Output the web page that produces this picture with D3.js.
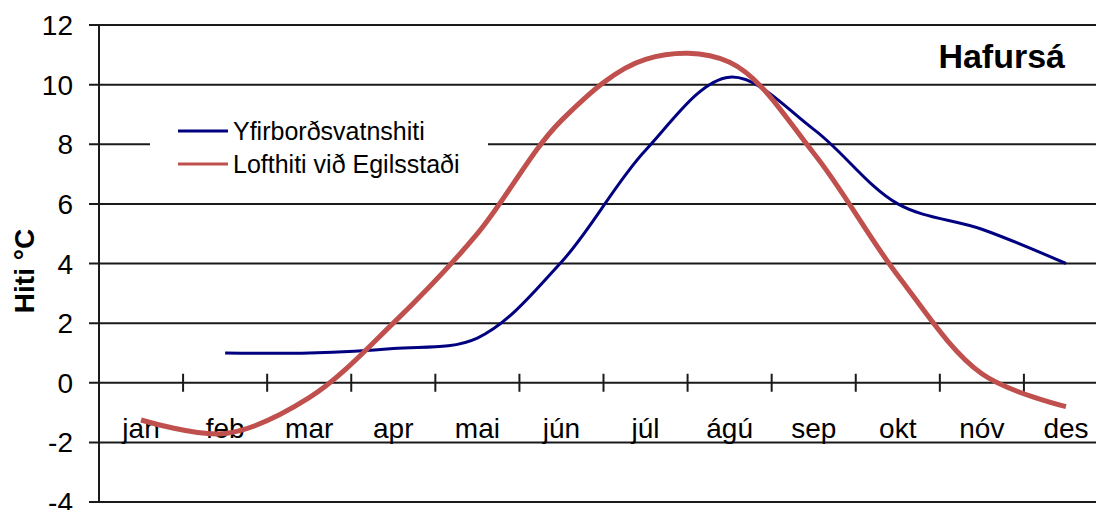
<!DOCTYPE html>
<html>
<head>
<meta charset="utf-8">
<script src="https://cdn.jsdelivr.net/npm/d3@7"></script>
<style>
  body { margin: 0; background: #fff; }
  text { font-family: "Liberation Sans", Arial, sans-serif; fill: #000; }
</style>
</head>
<body>
<svg id="vis" width="1096" height="510"></svg>
<script>
const months = ["jan", "feb", "mar", "apr", "mai", "jún", "júl", "ágú", "sep", "okt", "nóv", "des"];
// Yfirborðsvatnshiti (no value for jan)
const vatnshiti = [null, 1.0, 1.0, 1.15, 1.5, 4.05, 7.8, 10.25, 8.5, 6.0, 5.15, 4.0];
// Lofthiti við Egilsstaði
const lofthiti = [-1.25, -1.7, -0.5, 2.0, 5.0, 8.8, 10.85, 10.75, 7.7, 3.6, 0.3, -0.8];
const yTicks = [-4, -2, 0, 2, 4, 6, 8, 10, 12];

const seriesNames = ["Yfirborðsvatnshiti", "Lofthiti við Egilsstaði"];
const seriesColors = ["#000080", "#c0504d"];
const seriesWidths = [3, 5];

const svg = d3.select("#vis");

const x = d3.scaleBand()
  .domain(months)
  .range([99, 1108]);

const y = d3.scaleLinear()
  .domain([-4, 12])
  .range([502, 25]);

// grid lines
svg.append("g")
  .selectAll("line")
  .data(yTicks)
  .join("line")
  .attr("x1", 89)
  .attr("x2", 1108)
  .attr("y1", d => y(d))
  .attr("y2", d => y(d))
  .attr("stroke", "#1a1a1a")
  .attr("stroke-width", 2);

// y axis line
svg.append("line")
  .attr("x1", 99).attr("x2", 99)
  .attr("y1", y(12)).attr("y2", y(-4))
  .attr("stroke", "#1a1a1a")
  .attr("stroke-width", 2);

// y tick labels
svg.append("g")
  .selectAll("text")
  .data(yTicks)
  .join("text")
  .attr("x", 73)
  .attr("y", d => y(d))
  .attr("dy", "0.36em")
  .attr("text-anchor", "end")
  .attr("font-size", 28)
  .text(d => d);

// category ticks on the zero line
svg.append("g")
  .selectAll("line")
  .data(months.slice(1))
  .join("line")
  .attr("x1", d => x(d))
  .attr("x2", d => x(d))
  .attr("y1", y(0) - 9)
  .attr("y2", y(0) + 9)
  .attr("stroke", "#1a1a1a")
  .attr("stroke-width", 2);

// month labels
svg.append("g")
  .selectAll("text")
  .data(months)
  .join("text")
  .attr("x", d => x(d) + x.bandwidth() / 2)
  .attr("y", 438)
  .attr("text-anchor", "middle")
  .attr("font-size", 28)
  .text(d => d);

// y axis title
svg.append("text")
  .attr("transform", `translate(34, 271) rotate(-90)`)
  .attr("text-anchor", "middle")
  .attr("font-size", 28)
  .attr("font-weight", "bold")
  .text("Hiti °C");

// chart title
svg.append("text")
  .attr("x", 1065)
  .attr("y", 68)
  .attr("text-anchor", "end")
  .attr("font-size", 34)
  .attr("font-weight", "bold")
  .text("Hafursá");

// legend
const legend = svg.append("g");
legend.append("rect")
  .attr("x", 150).attr("y", 114)
  .attr("width", 338).attr("height", 68)
  .attr("fill", "#fff");

seriesNames.forEach((name, i) => {
  const ly = 131 + i * 33;
  legend.append("line")
    .attr("x1", 178).attr("x2", 228)
    .attr("y1", ly).attr("y2", ly)
    .attr("stroke", seriesColors[i])
    .attr("stroke-width", 3);
  legend.append("text")
    .attr("x", 233)
    .attr("y", ly + 9)
    .attr("font-size", 25)
    .text(name);
});

// series lines
const line = d3.line()
  .defined(d => d.v != null)
  .x(d => x(d.m) + x.bandwidth() / 2)
  .y(d => y(d.v))
  .curve(d3.curveCatmullRom);

[vatnshiti, lofthiti].forEach((vals, i) => {
  const pts = months.map((m, j) => ({ m: m, v: vals[j] })).filter(d => d.v != null);
  svg.append("path")
    .datum(pts)
    .attr("fill", "none")
    .attr("stroke", seriesColors[i])
    .attr("stroke-width", seriesWidths[i])
    .attr("stroke-linejoin", "round")
    .attr("d", line);
});
</script>
</body>
</html>
